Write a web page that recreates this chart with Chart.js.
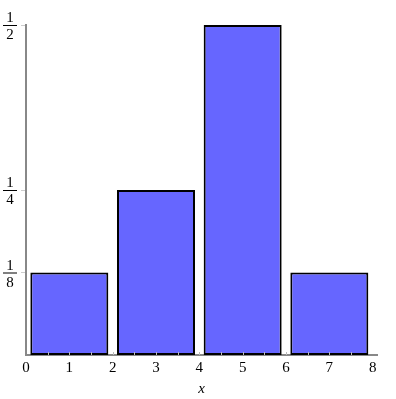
<!DOCTYPE html>
<html>
<head>
<meta charset="utf-8">
<script src="https://cdn.jsdelivr.net/npm/chart.js@4"></script>
<style>
  body { margin: 0; background: #fff; }
  #wrap { width: 396px; height: 399px; }
</style>
</head>
<body>
<div id="wrap"><canvas id="histChart" width="396" height="399"></canvas></div>
<script>
// Data
const binCenters = [1, 3, 5, 7];
const binHeights = [1 / 8, 1 / 4, 1 / 2, 1 / 8];
const xTickValues = [0, 1, 2, 3, 4, 5, 6, 7, 8];
const yTickValues = [1 / 8, 1 / 4, 1 / 2];
const yTickLabels = [['1', '8'], ['1', '4'], ['1', '2']];

const serif = '"Liberation Serif", "DejaVu Serif", serif';

// Draws the fraction labels on the y axis and the small minor ticks on the x axis
const fractionTicks = {
    id: 'fractionTicks',
    afterDraw(chart) {
        const ctx = chart.ctx;
        const xs = chart.scales.x;
        const ys = chart.scales.y;
        ctx.save();
        ctx.fillStyle = '#000';
        ctx.strokeStyle = '#000';
        ctx.font = '15px ' + serif;
        ctx.textAlign = 'center';
        yTickValues.forEach(function(v, i) {
            const py = ys.getPixelForValue(v);
            const cx = 10;
            ctx.textBaseline = 'alphabetic';
            ctx.fillText(yTickLabels[i][0], cx, py - 3);
            ctx.textBaseline = 'top';
            ctx.fillText(yTickLabels[i][1], cx, py + 3);
            ctx.lineWidth = 1;
            ctx.beginPath();
            ctx.moveTo(3, py + 0.5);
            ctx.lineTo(17, py + 0.5);
            ctx.stroke();
        });
        // minor ticks every half unit, pointing up from the axis
        ctx.strokeStyle = '#bbb';
        ctx.lineWidth = 1;
        const by = chart.chartArea.bottom;
        for (let v = 0.5; v < 8; v += 0.5) {
            const px = Math.round(xs.getPixelForValue(v)) + 0.5;
            ctx.beginPath();
            ctx.moveTo(px, by - 3);
            ctx.lineTo(px, by);
            ctx.stroke();
        }
        ctx.restore();
    }
};

new Chart(document.getElementById('histChart'), {
    type: 'bar',
    data: {
        datasets: [{
            data: binCenters.map(function(c, i) { return { x: c, y: binHeights[i] }; }),
            backgroundColor: '#6666ff',
            borderColor: '#000',
            borderWidth: 2,
            borderSkipped: false,
            // bar slot is one tick unit wide, bins are 1.8 units wide
            barPercentage: 1.8,
            categoryPercentage: 1.0
        }]
    },
    options: {
        responsive: false,
        animation: false,
        layout: { padding: { left: 21, right: 19, top: 25, bottom: 2 } },
        plugins: {
            legend: { display: false },
            tooltip: { enabled: false }
        },
        scales: {
            x: {
                type: 'linear',
                offset: false,
                min: 0,
                max: 8.1,
                afterBuildTicks: function(scale) {
                    scale.ticks = xTickValues.map(function(v) { return { value: v }; });
                },
                grid: { drawOnChartArea: false, drawTicks: false, offset: false },
                border: { color: '#888', width: 2 },
                ticks: {
                    color: '#000',
                    font: { family: serif, size: 15, lineHeight: 1 },
                    padding: 6,
                    maxRotation: 0
                },
                title: {
                    display: true,
                    text: 'x',
                    color: '#000',
                    font: { family: serif, size: 15, style: 'italic', lineHeight: 1 },
                    padding: { top: 0, bottom: 0 }
                }
            },
            y: {
                min: 0,
                max: 0.5,
                afterBuildTicks: function(scale) {
                    scale.ticks = yTickValues.map(function(v) { return { value: v }; });
                },
                grid: { drawOnChartArea: false, tickLength: 5, color: '#ccc' },
                border: { color: '#888', width: 2 },
                ticks: { display: false }
            }
        }
    },
    plugins: [fractionTicks]
});
</script>
</body>
</html>
